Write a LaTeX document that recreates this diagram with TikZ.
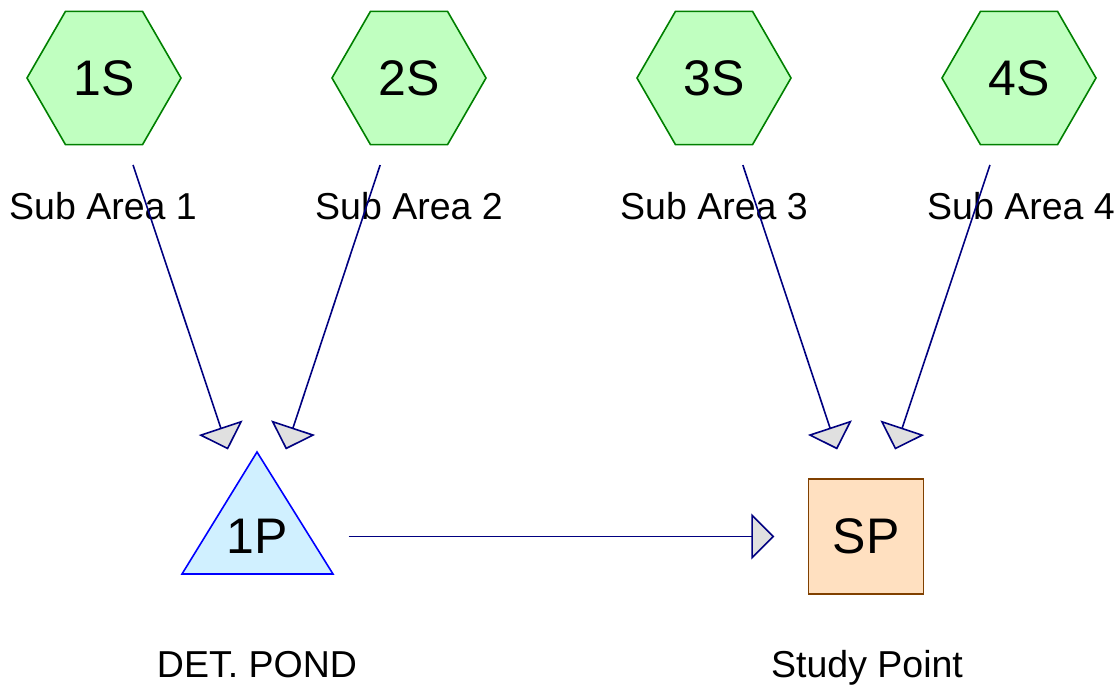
\documentclass[tikz,border=0pt]{standalone}
\usepackage{fontspec}
\setmainfont{Liberation Sans}
\usetikzlibrary{shapes.geometric,arrows.meta}
\definecolor{hexfill}{HTML}{C0FFC0}
\definecolor{hexdraw}{HTML}{008000}
\definecolor{pondfill}{HTML}{D0F0FF}
\definecolor{ponddraw}{HTML}{0000FF}
\definecolor{spfill}{HTML}{FFE0C0}
\definecolor{spdraw}{HTML}{804000}
\definecolor{linkcol}{HTML}{000080}
\definecolor{tipfill}{HTML}{E0E0E0}
\tikzset{
  subcat/.style={regular polygon, regular polygon sides=6, minimum size=154pt, inner sep=0pt,
    fill=hexfill, draw=hexdraw, line width=1.6pt, font=\fontsize{50}{55}\selectfont},
  pondshape/.style={fill=pondfill, draw=ponddraw, line width=1.6pt},
  bigtext/.style={inner sep=0pt, font=\fontsize{50}{55}\selectfont},
  reach/.style={rectangle, minimum size=115pt, inner sep=0pt, fill=spfill, draw=spdraw,
    line width=1.6pt, font=\fontsize{50}{55}\selectfont},
  caption/.style={anchor=base, inner sep=0pt, font=\fontsize{37.5}{40}\selectfont},
  link/.style={draw=linkcol, line width=1.6pt, shorten <=91.7pt, shorten >=91.7pt,
    -{Triangle[length=23pt,width=46pt,fill=tipfill,line width=1.6pt]}}
}
\begin{document}
\begin{tikzpicture}[x=1pt,y=-1pt]
\useasboundingbox (0,0) rectangle (1120,690);
\node[subcat] (s1) at (104,78) {1S};
\node[subcat] (s2) at (409,78) {2S};
\node[subcat] (s3) at (714,78) {3S};
\node[subcat] (s4) at (1019,78) {4S};
\node[caption] (l1) at (103,219) {Sub Area 1};
\node[caption] (l2) at (409,219) {Sub Area 2};
\node[caption] (l3) at (714,219) {Sub Area 3};
\node[caption] (l4) at (1021,219) {Sub Area 4};
\draw[pondshape] (257,452) -- (333,574) -- (182,574) -- cycle;
\node[bigtext] (p1) at (257,536.5) {1P};
\node[reach] (sp) at (866,536.5) {SP};
\node[caption] (lp) at (257,677) {DET. POND};
\node[caption] (ls) at (867,677) {Study Point};
\draw[link] (s1.center) -- (p1.center);
\draw[link] (s2.center) -- (p1.center);
\draw[link] (s3.center) -- (sp.center);
\draw[link] (s4.center) -- (sp.center);
\draw[link] (p1.center) -- (sp.center);
\end{tikzpicture}
\end{document}
